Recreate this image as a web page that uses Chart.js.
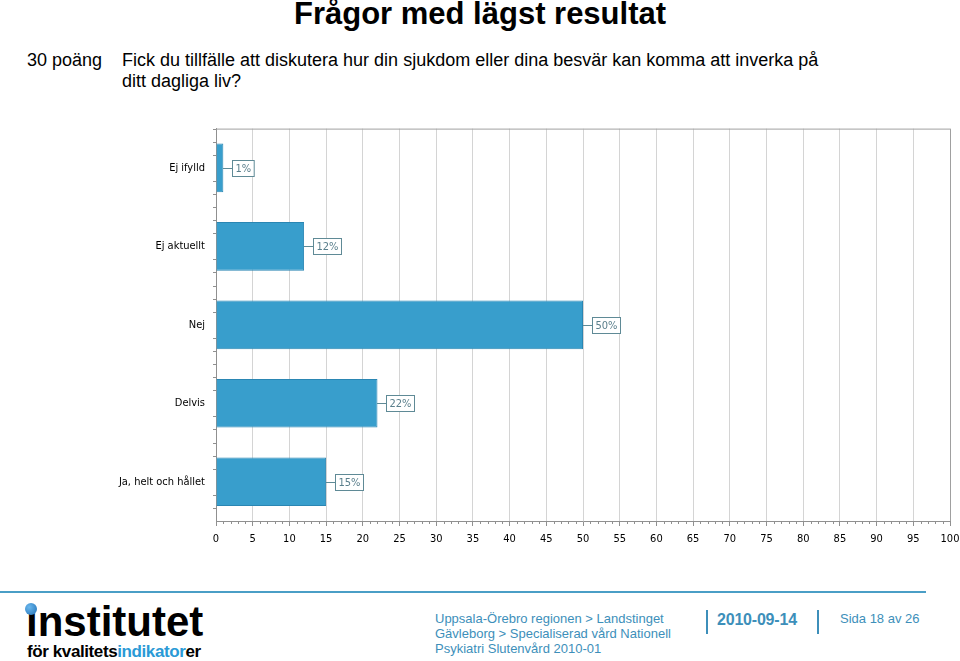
<!DOCTYPE html>
<html>
<head>
<meta charset="utf-8">
<script src="https://cdn.jsdelivr.net/npm/chart.js@4/dist/chart.umd.min.js"></script>
<style>
  body { margin: 0; width: 960px; height: 661px; background: #fff; position: relative; overflow: hidden; font-family: "Liberation Sans", Arial, sans-serif; }
  .abs { position: absolute; white-space: nowrap; }
  #title { left: 0; width: 960px; top: -4px; text-align: center; font-weight: bold; font-size: 31px; }
  #points { left: 27px; top: 50px; font-size: 18px; }
  #question { left: 122px; top: 50px; font-size: 18px; line-height: 21px; }
  #chartBox { position: absolute; left: 0; top: 118px; width: 960px; height: 434px; }
  #rule { left: 0; top: 591px; width: 926px; height: 2px; background: #4a9ec6; }
  #logo { left: 26px; top: 598px; font-size: 42px; font-weight: bold; letter-spacing: 0px; }
  #dot { left: 25px; top: 603px; width: 12px; height: 12px; border-radius: 50%; background: radial-gradient(circle at 35% 35%, #6ab8ee, #1f6fb5); }
  #sub { left: 27px; top: 642px; font-size: 17px; font-weight: bold; letter-spacing: -0.4px; }
  #sub span { color: #2a9ad6; }
  .foot { color: #3d8fba; font-size: 13px; }
  #region { left: 435px; top: 611px; line-height: 15px; white-space: normal; width: 260px; }
  #date { left: 717px; top: 611px; font-size: 16px; font-weight: bold; letter-spacing: -0.2px; }
  #page { left: 840px; top: 611px; }
  .bar { position: absolute; width: 2px; height: 24px; background: #3d8fba; top: 610px; }
</style>
</head>
<body>
<div class="abs" id="title">Frågor med lägst resultat</div>
<div class="abs" id="points">30 poäng</div>
<div class="abs" id="question">Fick du tillfälle att diskutera hur din sjukdom eller dina besvär kan komma att inverka på<br>ditt dagliga liv?</div>
<div id="chartBox"><canvas id="chart"></canvas></div>
<div class="abs" id="rule"></div>
<div class="abs" id="logo">ınstitutet</div>
<div class="abs" id="dot"></div>
<div class="abs" id="sub">för kvalitets<span>indikator</span>er</div>
<div class="abs foot" id="region">Uppsala-Örebro regionen &gt; Landstinget Gävleborg &gt; Specialiserad vård Nationell Psykiatri Slutenvård 2010-01</div>
<div class="bar" style="left:706px"></div>
<div class="abs foot" id="date">2010-09-14</div>
<div class="bar" style="left:817px"></div>
<div class="abs foot" id="page">Sida 18 av 26</div>

<script>
const categories = ["Ej ifylld", "Ej aktuellt", "Nej", "Delvis", "Ja, helt och hållet"]
const percentages = [1, 12, 50, 22, 15]
const xTicks = [0, 5, 10, 15, 20, 25, 30, 35, 40, 45, 50, 55, 60, 65, 70, 75, 80, 85, 90, 95, 100]

// minor ticks, boxed value labels and the plot frame
const decorations = {
  id: 'decorations',
  afterDatasetsDraw(chart) {
    const ctx = chart.ctx
    const area = chart.chartArea
    const x = chart.scales.x
    const y = chart.scales.y
    ctx.save()
    ctx.strokeStyle = '#a0a0a0'
    ctx.lineWidth = 1
    // frame top + right
    ctx.beginPath()
    ctx.moveTo(area.left, area.top + 0.5)
    ctx.lineTo(area.right + 0.5, area.top + 0.5)
    ctx.lineTo(area.right + 0.5, area.bottom)
    ctx.stroke()
    // x minor ticks
    ctx.strokeStyle = '#909090'
    ctx.beginPath()
    for (let v = 0; v <= 100; v++) {
      if (v % 5 === 0) continue
      const px = Math.round(x.getPixelForValue(v)) + 0.5
      ctx.moveTo(px, area.bottom)
      ctx.lineTo(px, area.bottom + 3)
    }
    // y minor ticks
    for (let i = 0; i < categories.length; i++) {
      for (let k = 0; k < 6; k++) {
        if (k === 3) continue
        const py = Math.round(y.getPixelForValue(i - 0.5 + k / 6)) + 0.5
        ctx.moveTo(area.left - 3, py)
        ctx.lineTo(area.left, py)
      }
    }
    ctx.stroke()
    // value labels
    ctx.font = '11px "DejaVu Sans Condensed", "DejaVu Sans", sans-serif'
    ctx.textBaseline = 'middle'
    const meta = chart.getDatasetMeta(0)
    meta.data.forEach((bar, i) => {
      const txt = percentages[i] + '%'
      const bx = Math.round(bar.x)
      const by = Math.round(bar.y) + 0.5
      const w = ctx.measureText(txt).width + 6
      const boxX = bx + 9.5
      ctx.strokeStyle = '#5f8a96'
      ctx.beginPath()
      ctx.moveTo(bx, by)
      ctx.lineTo(boxX, by)
      ctx.stroke()
      ctx.fillStyle = '#fff'
      ctx.fillRect(boxX, by - 8, w, 16)
      ctx.strokeRect(boxX, by - 8, w, 16)
      ctx.fillStyle = '#5a7f8c'
      ctx.fillText(txt, boxX + 3, by + 1)
    })
    ctx.restore()
  }
}

new Chart(document.getElementById('chart'), {
  type: 'bar',
  data: {
    labels: categories,
    datasets: [{
      data: percentages,
      backgroundColor: '#389ecc',
      borderColor: '#2a86b3',
      borderWidth: 1,
      categoryPercentage: 0.62,
      barPercentage: 1
    }]
  },
  options: {
    indexAxis: 'y',
    responsive: true,
    maintainAspectRatio: false,
    animation: false,
    layout: { padding: { top: 10, right: 0, bottom: 0, left: 0 } },
    plugins: { legend: { display: false }, tooltip: { enabled: false } },
    scales: {
      x: {
        min: 0,
        max: 100,
        afterBuildTicks: (s) => { s.ticks = xTicks.map(v => ({ value: v })) },
        grid: { color: '#d4d4d4', tickColor: '#909090', tickLength: 5, drawTicks: true },
        border: { color: '#909090' },
        ticks: { color: '#000', font: { family: '"DejaVu Sans Condensed", "DejaVu Sans", sans-serif', size: 11 }, padding: 7, maxRotation: 0 },
        afterFit: (s) => { s.height = 31; s.paddingRight = 10; s.paddingLeft = 0 }
      },
      y: {
        grid: { display: false, drawTicks: true, tickColor: '#909090', tickLength: 7 },
        border: { color: '#909090' },
        ticks: { color: '#000', font: { family: '"DejaVu Sans Condensed", "DejaVu Sans", sans-serif', size: 11 }, padding: 4 },
        afterFit: (s) => { s.width = 216 }
      }
    }
  },
  plugins: [decorations]
})
</script>
</body>
</html>
